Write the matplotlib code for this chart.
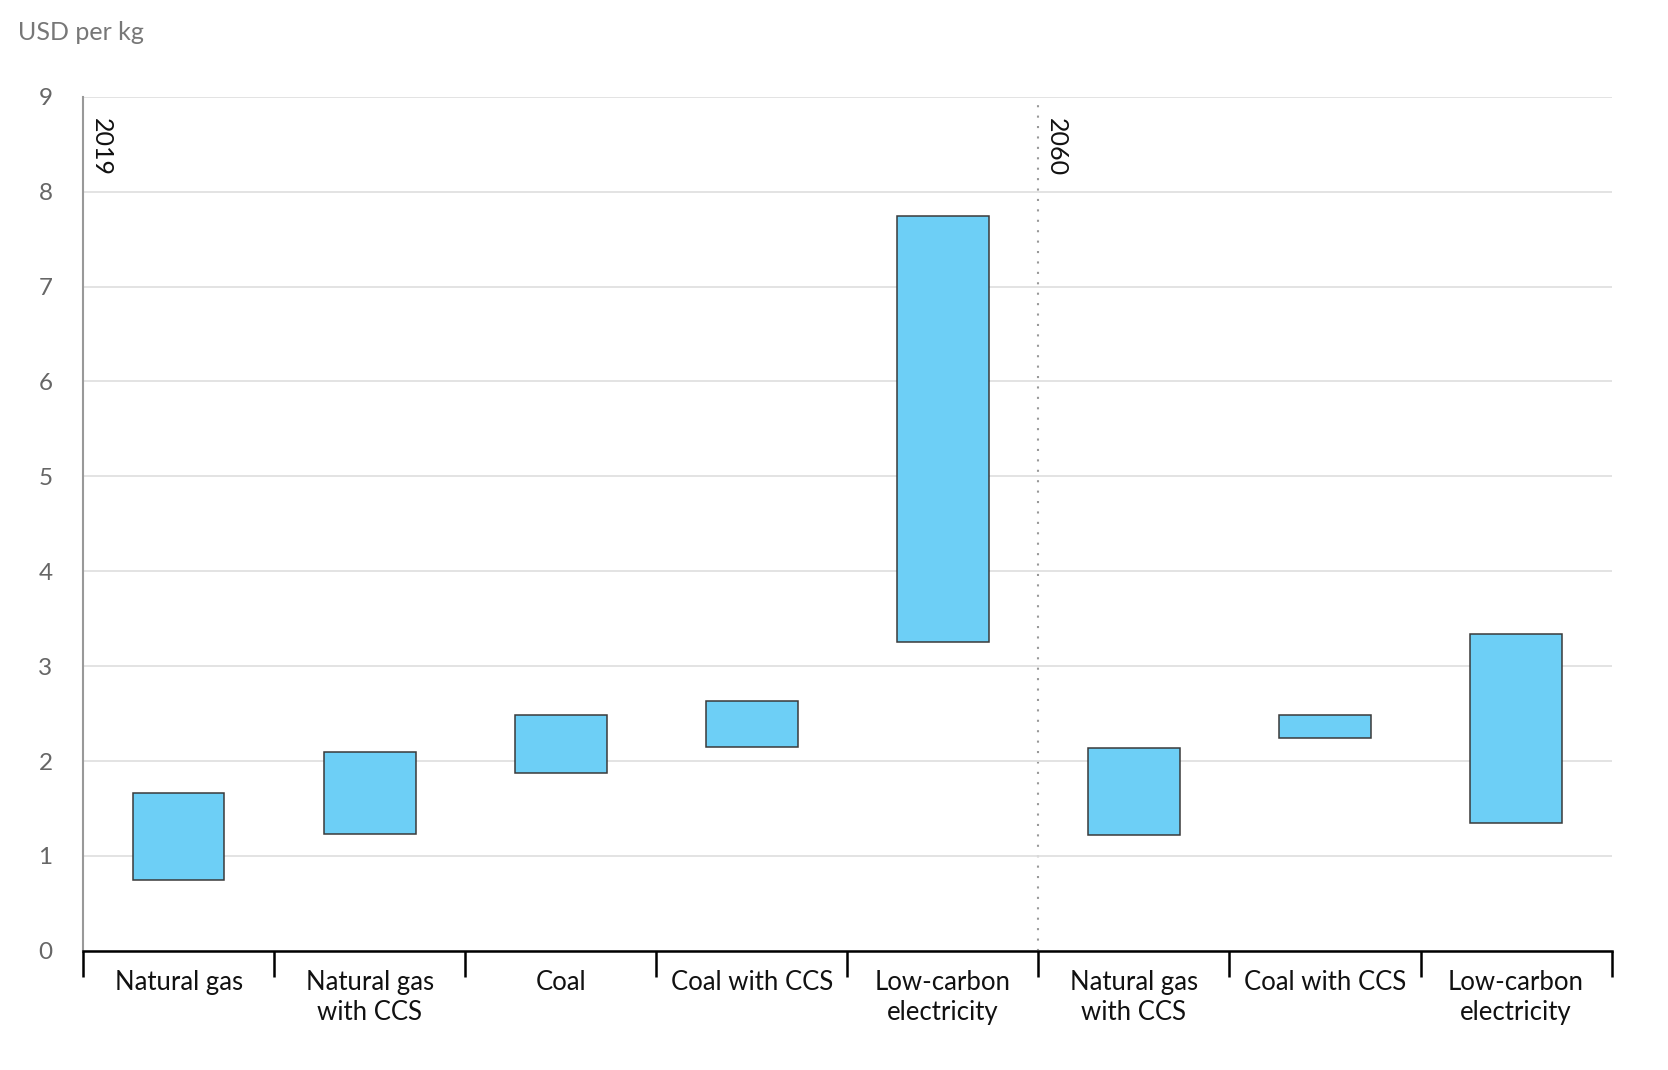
import matplotlib
matplotlib.use("Agg")
import matplotlib.pyplot as plt

plt.rcParams['font.family'] = ['Lato', 'DejaVu Sans']

categories = ["Natural gas", "Natural gas\nwith CCS", "Coal", "Coal with CCS", "Low-carbon\nelectricity",
              "Natural gas\nwith CCS", "Coal with CCS", "Low-carbon\nelectricity"]
low_values = [0.75, 1.23, 1.87, 2.15, 3.25, 1.22, 2.24, 1.35]
high_values = [1.66, 2.09, 2.48, 2.63, 7.74, 2.14, 2.49, 3.34]
years = ["2019", "2060"]
year_start_index = [0, 5]
y_ticks = [0, 1, 2, 3, 4, 5, 6, 7, 8, 9]

fig = plt.figure(figsize=(16.68, 10.70), dpi=100)
ax = fig.add_axes([0.0498, 0.1114, 0.9164, 0.7981])

n = len(categories)
centers = [i + 0.5 for i in range(n)]
heights = [h - l for h, l in zip(high_values, low_values)]
ax.bar(centers, heights, bottom=low_values, width=0.48, color="#6DCFF6",
       edgecolor="#3a3a3a", linewidth=1.1, zorder=3)

ax.set_xlim(0, n)
ax.set_ylim(0, 9)
ax.set_yticks(y_ticks)
ax.set_yticklabels([str(t) for t in y_ticks])
ax.grid(axis='y', color="#e0e0e0", linewidth=1.3, zorder=0)
ax.tick_params(axis='y', length=0, pad=22, labelsize=17.5, labelcolor="#666666")

ax.set_xticks(range(n + 1))
ax.set_xticklabels([])
ax.tick_params(axis='x', which='major', length=19, width=1.8, color="black", direction='out')
ax.set_xticks(centers, minor=True)
ax.set_xticklabels(categories, minor=True, fontsize=18.5, color="#111111", linespacing=1.25)
ax.tick_params(axis='x', which='minor', length=0, pad=14)

for s in ["top", "right"]:
    ax.spines[s].set_visible(False)
ax.spines["left"].set_color("#999999")
ax.spines["left"].set_linewidth(1.5)
ax.spines["bottom"].set_color("black")
ax.spines["bottom"].set_linewidth(1.8)

for yr, idx in zip(years, year_start_index):
    if idx > 0:
        ax.axvline(idx, color="#999999", linestyle=(0, (1, 4)), linewidth=1.5, zorder=1)
    ax.text(idx + 0.035, 8.78, yr, rotation=-90, ha='left', va='top', fontsize=18, color="#111111")

fig.text(0.011, 0.970, "USD per kg", fontsize=18, color="#777777", ha='left', va='center')

fig.savefig("out.png", dpi=100)
